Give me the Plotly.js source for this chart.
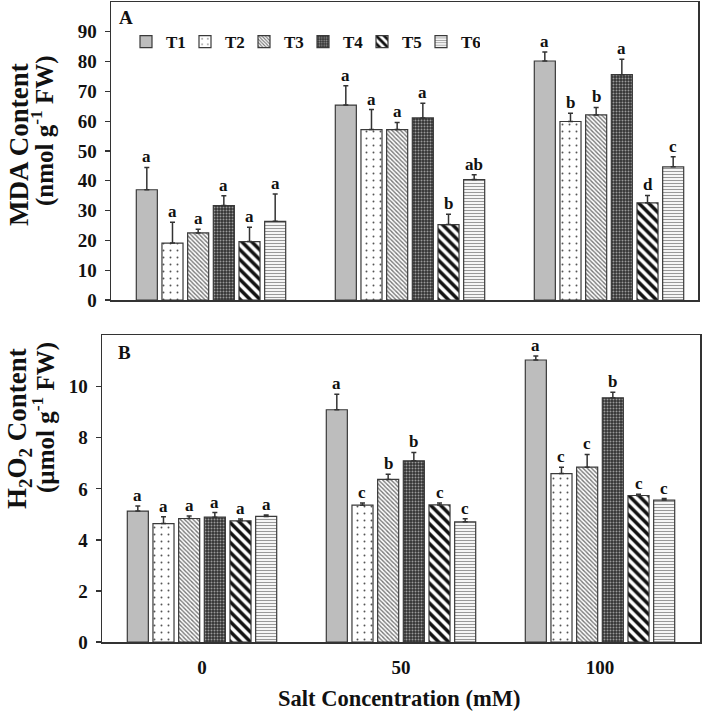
<!DOCTYPE html>
<html>
<head>
<meta charset="utf-8">
<script src="https://cdn.plot.ly/plotly-3.0.1.min.js"></script>
<style>html,body{margin:0;padding:0;background:#fff;}#chart{width:709px;height:713px;}</style>
</head>
<body>
<div id="chart"></div>
<script>
// ---- Data ----
const categories = ['0', '50', '100'];            // Salt concentration (mM)
const treatments = ['T1', 'T2', 'T3', 'T4', 'T5', 'T6'];

// Panel A: MDA content (nmol g-1 FW), per treatment across [0, 50, 100]
const mdaT1 = [37.0, 65.4, 80.2];
const mdaT2 = [19.1, 57.2, 59.9];
const mdaT3 = [22.5, 57.2, 62.1];
const mdaT4 = [31.7, 61.1, 75.6];
const mdaT5 = [19.6, 25.3, 32.6];
const mdaT6 = [26.4, 40.4, 44.7];
const mdaErrT1 = [7.5, 6.5, 3.0];
const mdaErrT2 = [7.0, 6.7, 2.8];
const mdaErrT3 = [1.2, 2.4, 2.5];
const mdaErrT4 = [3.3, 4.9, 5.2];
const mdaErrT5 = [4.8, 3.5, 2.5];
const mdaErrT6 = [9.2, 1.6, 3.4];
const mdaLetT1 = ['a', 'a', 'a'];
const mdaLetT2 = ['a', 'a', 'b'];
const mdaLetT3 = ['a', 'a', 'b'];
const mdaLetT4 = ['a', 'a', 'a'];
const mdaLetT5 = ['a', 'b', 'd'];
const mdaLetT6 = ['a', 'ab', 'c'];

// Panel B: H2O2 content (µmol g-1 FW)
const h2o2T1 = [5.13, 9.10, 11.05];
const h2o2T2 = [4.64, 5.36, 6.60];
const h2o2T3 = [4.84, 6.37, 6.85];
const h2o2T4 = [4.89, 7.10, 9.57];
const h2o2T5 = [4.75, 5.37, 5.74];
const h2o2T6 = [4.92, 4.71, 5.56];
const h2o2ErrT1 = [0.20, 0.61, 0.16];
const h2o2ErrT2 = [0.27, 0.09, 0.25];
const h2o2ErrT3 = [0.10, 0.20, 0.50];
const h2o2ErrT4 = [0.18, 0.33, 0.22];
const h2o2ErrT5 = [0.07, 0.08, 0.05];
const h2o2ErrT6 = [0.06, 0.12, 0.06];
const h2o2LetT1 = ['a', 'a', 'a'];
const h2o2LetT2 = ['a', 'c', 'c'];
const h2o2LetT3 = ['a', 'b', 'c'];
const h2o2LetT4 = ['a', 'b', 'b'];
const h2o2LetT5 = ['a', 'c', 'c'];
const h2o2LetT6 = ['a', 'c', 'c'];

const yTicksA = [0, 10, 20, 30, 40, 50, 60, 70, 80, 90];
const yTicksB = [0, 2, 4, 6, 8, 10];

// ---- Styles ----
const FONT = 'Liberation Serif, Times New Roman, serif';
const styles = [
  {color: '#bdbdbd', pattern: {shape: ''}},
  {color: '#ffffff', pattern: {shape: '.', bgcolor: '#ffffff', fgcolor: '#555', size: 7, solidity: 0.06}},
  {color: '#ffffff', pattern: {shape: '\\', bgcolor: '#ffffff', fgcolor: '#777', size: 3, solidity: 0.45}},
  {color: '#3c3c3c', pattern: {shape: '.', bgcolor: '#333333', fgcolor: '#9a9a9a', size: 3, solidity: 0.35}},
  {color: '#ffffff', pattern: {shape: '\\', bgcolor: '#ffffff', fgcolor: '#111', size: 7, solidity: 0.5}},
  {color: '#ffffff', pattern: {shape: '-', bgcolor: '#ffffff', fgcolor: '#999', size: 3, solidity: 0.4}}
];

const mdaVals = [mdaT1, mdaT2, mdaT3, mdaT4, mdaT5, mdaT6];
const mdaErrs = [mdaErrT1, mdaErrT2, mdaErrT3, mdaErrT4, mdaErrT5, mdaErrT6];
const mdaLets = [mdaLetT1, mdaLetT2, mdaLetT3, mdaLetT4, mdaLetT5, mdaLetT6];
const h2o2Vals = [h2o2T1, h2o2T2, h2o2T3, h2o2T4, h2o2T5, h2o2T6];
const h2o2Errs = [h2o2ErrT1, h2o2ErrT2, h2o2ErrT3, h2o2ErrT4, h2o2ErrT5, h2o2ErrT6];
const h2o2Lets = [h2o2LetT1, h2o2LetT2, h2o2LetT3, h2o2LetT4, h2o2LetT5, h2o2LetT6];

const xIdx = categories.map((c, i) => i);
const BARGAP = 0.226, BARGROUPGAP = 0.18;
const slot = (1 - BARGAP) / treatments.length;

function barTrace(i, vals, errs, xa, ya, showLegend) {
  return {
    type: 'bar', name: treatments[i], x: xIdx, y: vals,
    xaxis: xa, yaxis: ya, showlegend: showLegend, legendgroup: treatments[i],
    marker: {color: styles[i].color, pattern: styles[i].pattern, line: {color: '#3a3a3a', width: 1.2}},
    error_y: {type: 'data', array: errs, arrayminus: errs.map(() => 0), symmetric: false,
              color: '#333', thickness: 1.5, width: 2.5},
    hoverinfo: 'skip'
  };
}

const traces = [];
for (let i = 0; i < 6; i++) traces.push(barTrace(i, mdaVals[i], mdaErrs[i], 'x', 'y', true));
for (let i = 0; i < 6; i++) traces.push(barTrace(i, h2o2Vals[i], h2o2Errs[i], 'x2', 'y2', false));

const annotations = [];
function addLetters(vals, errs, lets, xr, yr) {
  for (let i = 0; i < 6; i++) {
    for (let g = 0; g < categories.length; g++) {
      annotations.push({
        x: g + (i - 2.5) * slot, y: vals[i][g] + errs[i][g], xref: xr, yref: yr,
        text: '<b>' + lets[i][g] + '</b>', showarrow: false, xanchor: 'center', yanchor: 'bottom', yshift: -1,
        font: {family: FONT, size: 17, color: '#111'}
      });
    }
  }
}
addLetters(mdaVals, mdaErrs, mdaLets, 'x', 'y');
addLetters(h2o2Vals, h2o2Errs, h2o2Lets, 'x2', 'y2');

const W = 709, H = 713;
function px(x) { return x / W; }
function py(y) { return 1 - y / H; }

function paperText(text, x, y, size, angle) {
  return {text: text, x: px(x), y: py(y), xref: 'paper', yref: 'paper', showarrow: false,
    xanchor: 'center', yanchor: 'middle', textangle: angle || 0,
    font: {family: FONT, size: size, color: '#111'}};
}

annotations.push(
  paperText('<b>A</b>', 126, 17, 19),
  paperText('<b>B</b>', 124, 352, 19),
  paperText('<b>MDA Content</b>', 19, 145, 27, -90),
  paperText('<b>(nmol g<sup>-1</sup> FW)</b>', 43, 131, 25, -90),
  paperText('<b>H<sub>2</sub>O<sub>2</sub> Content</b>', 19, 429, 27, -90),
  paperText('<b>(µmol g<sup>-1</sup> FW)</b>', 43, 418, 25, -90),
  paperText('<b>Salt Concentration (mM)</b>', 399, 698, 22.5)
);

const axisCommon = {showline: true, mirror: true, linecolor: '#333', linewidth: 1.5,
  showgrid: false, zeroline: false, tickfont: {family: FONT, size: 19, color: '#111', weight: 'bold'}};

const layout = {
  width: W, height: H, margin: {l: 0, r: 0, t: 0, b: 0},
  paper_bgcolor: '#fff', plot_bgcolor: '#fff',
  barmode: 'group', bargap: BARGAP, bargroupgap: BARGROUPGAP,
  xaxis: Object.assign({}, axisCommon, {domain: [px(111), px(698)], anchor: 'y',
    range: [(111 - 211) / 199, (698 - 211) / 199], showticklabels: false, ticks: ''}),
  yaxis: Object.assign({}, axisCommon, {domain: [py(300), py(2)], anchor: 'x',
    range: [0, 100], tickvals: yTicksA, ticks: 'outside', ticklen: 5, tickwidth: 1.2, tickcolor: '#333',
    ticklabelstandoff: 4}),
  xaxis2: Object.assign({}, axisCommon, {domain: [px(102), px(700)], anchor: 'y2',
    range: [(102 - 202) / 199, (700 - 202) / 199], tickvals: xIdx, ticktext: categories, ticks: '',
    ticklabelstandoff: 8}),
  yaxis2: Object.assign({}, axisCommon, {domain: [py(642), py(335)], anchor: 'x2',
    range: [0, 12.03], tickvals: yTicksB, ticks: 'outside', ticklen: 5, tickwidth: 1.2, tickcolor: '#333',
    ticklabelstandoff: 4}),
  legend: {orientation: 'h', x: px(126), y: py(42), xanchor: 'left', yanchor: 'middle',
    entrywidth: 14, entrywidthmode: 'pixels', itemwidth: 30, bgcolor: 'rgba(0,0,0,0)',
    font: {family: FONT, size: 17, color: '#111', weight: 'bold'}, traceorder: 'normal'},
  annotations: annotations,
  font: {family: FONT}
};

Plotly.newPlot('chart', traces, layout, {displayModeBar: false, staticPlot: true});
</script>
</body>
</html>
